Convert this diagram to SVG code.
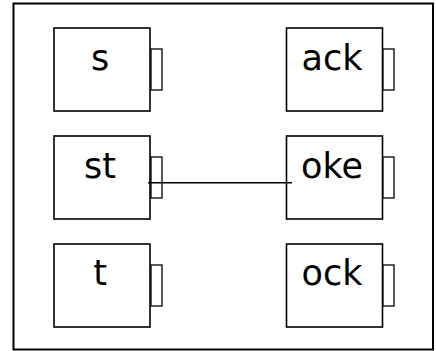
<svg xmlns="http://www.w3.org/2000/svg" width="436" height="351" viewBox="0 0 436 351">
<style>
.frame{fill:#fff;stroke:#000;stroke-width:2}
.box{fill:#fff;stroke:#000;stroke-width:1.6}
.tab{fill:#fff;stroke:#000;stroke-width:1.3}
.lbl{font-family:"DejaVu Sans",sans-serif;font-size:35px;text-anchor:middle;fill:#000}
.conn{stroke:#000;stroke-width:1.5;fill:none}
</style>
<rect class="frame" x="13.5" y="3.5" width="419.5" height="346"/>
<g id="node-s"><rect class="box" x="54" y="28" width="96" height="83"/><rect class="tab" x="151" y="49" width="11" height="41"/><text class="lbl" x="100" y="69.5">s</text></g>
<g id="node-st"><rect class="box" x="54" y="136" width="96" height="83"/><rect class="tab" x="151" y="157" width="11" height="41"/><text class="lbl" x="100" y="177.5">st</text></g>
<g id="node-t"><rect class="box" x="54" y="244" width="96" height="83"/><rect class="tab" x="151" y="265" width="11" height="41"/><text class="lbl" x="100" y="284.5">t</text></g>
<g id="node-ack"><rect class="box" x="286.5" y="28" width="96" height="83"/><rect class="tab" x="383" y="49" width="11" height="41"/><text class="lbl" x="332" y="69.5">ack</text></g>
<g id="node-oke"><rect class="box" x="286.5" y="136" width="96" height="83"/><rect class="tab" x="383" y="157" width="11" height="41"/><text class="lbl" x="332" y="177.5">oke</text></g>
<g id="node-ock"><rect class="box" x="286.5" y="244" width="96" height="83"/><rect class="tab" x="383" y="265" width="11" height="41"/><text class="lbl" x="332" y="284.5">ock</text></g>
<g id="connectors"><line class="conn" x1="148" y1="182.7" x2="292" y2="182.7"/></g>
</svg>
